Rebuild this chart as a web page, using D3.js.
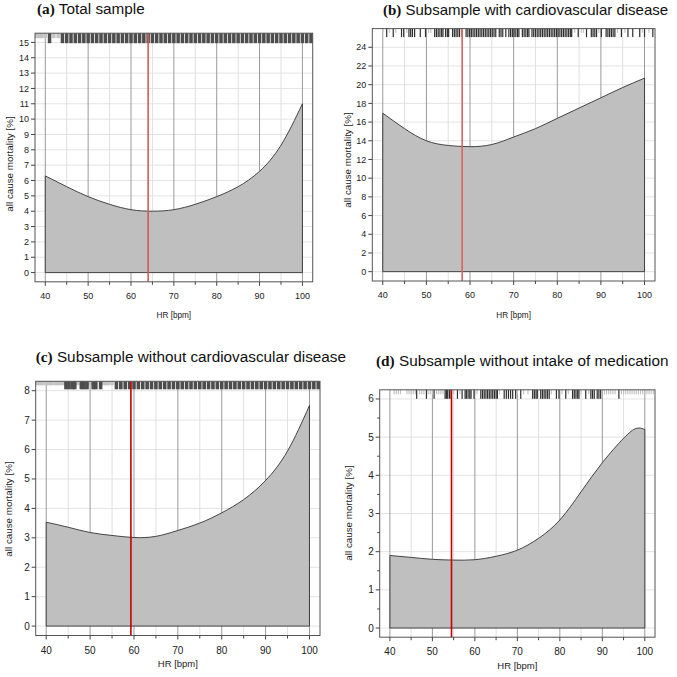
<!DOCTYPE html>
<html><head><meta charset="utf-8">
<script src="https://cdn.jsdelivr.net/npm/d3@7"></script>
<style>body{margin:0;background:#fff}svg{display:block}</style>
</head><body>
<svg id="c" width="677" height="677"></svg>
<script>
// ---------- data ----------
const hrGrid = [40,45,50,55,60,65,70,75,80,85,90,95,100];
const hrGridD = [40,45,50,55,60,65,70,75,80,85,90,95,98,100];
const mortA = [6.3,5.6,4.95,4.45,4.1,4.0,4.1,4.45,4.95,5.6,6.6,8.3,11.0];
const mortB = [16.95,15.3,14.0,13.5,13.37,13.6,14.4,15.3,16.4,17.5,18.6,19.7,20.7];
const mortC = [3.53,3.36,3.18,3.08,3.01,3.05,3.25,3.5,3.85,4.3,4.95,5.95,7.5];
const mortD = [1.9,1.85,1.8,1.78,1.79,1.88,2.04,2.35,2.83,3.57,4.33,4.97,5.23,5.2];
const optHR = [64.0, 58.2, 59.3, 54.5];
const titleTags = ["(a)","(b)","(c)","(d)"];
const titleTexts = ["Total sample","Subsample with cardiovascular disease","Subsample without cardiovascular disease","Subsample without intake of medication"];
const xTicks = [40,50,60,70,80,90,100];
const xMinorTicks = [45,55,65,75,85,95];
const yTicksA = [0,1,2,3,4,5,6,7,8,9,10,11,12,13,14,15];
const yTicksB = [0,2,4,6,8,10,12,14,16,18,20,22,24];
const yTicksC = [0,1,2,3,4,5,6,7,8];
const yTicksD = [0,1,2,3,4,5,6];
const yMinorD = [0.5,1.5,2.5,3.5,4.5,5.5];
const xLabel = "HR [bpm]";
const yLabel = "all cause mortality [%]";
// rug: observed HR values (dark = long ticks, light = short ticks)
const rugDarkA = [41,44,45,46,47,48,49,50,51,52,53,54,55,56,57,58,59,60,61,62,63,64,65,66,67,68,69,70,71,72,73,74,75,76,77,78,79,80,81,82,83,84,85,86,87,88,89,90,91,92,93,94,95,96,97,98,99,100,101,102];
const rugLightA = [38,38.6,39.2,40,42,43];
const rugDarkB = [40.9,42.4,44.3,44.8,46.0,46.4,46.8,47.3,48.6,49.8,51.9,52.3,52.7,53.1,53.5,53.8,54.4,54.8,55.1,56.0,56.4,56.8,57.2,57.6,58.2,
  59.1,59.5,59.9,60.3,60.7,61.1,61.5,61.9,62.3,62.7,63.1,63.5,63.9,64.3,64.7,65.1,65.5,65.9,66.7,67.1,67.5,68.2,68.9,69.3,69.7,70.1,70.5,70.9,71.2,
  72.0,72.4,72.8,73.2,73.5,74.2,74.6,75.0,75.4,75.8,76.2,76.6,77.0,77.4,77.8,78.2,78.6,79.0,79.4,79.8,80.2,80.6,81.0,81.4,81.8,82.2,82.6,83.0,83.3,
  84.8,86.7,87.8,88.2,88.6,89.0,90.1,91.2,91.6,92.0,92.4,92.8,93.2,94.7,96.2,97.3,98.9,100.0,101.9];
const rugLightB = [40,41.5,43,45.5,50.5,51,84,85.5,86,89.5,93.8,95.5,99.5,101];
const rugDarkC = [44.5,45.2,46,46.5,48,48.6,49.3,50.7,51.3,52.4,56,57,58,59,60,61,62,63,64,65,66,67,68,69,70,71,72,73,74,75,76,77,78,79,80,81,82,83,84,85,86,87,88,89,90,91,92,93,94,95,96,97,98,99,100,101,102];
const rugLightC = [38,38.6,39.2,40,40.6,41.2,42,42.6,43.2,44,47.2,50,53,53.6,54.2,55];
const rugDarkD = [46.3,48.6,50.4,53.0,53.3,53.6,54.0,54.4,55.9,57.0,57.7,58.0,58.4,58.8,59.1,59.8,61.4,61.8,62.2,62.6,63.0,63.4,63.8,64.2,64.6,65.0,65.3,
  66.9,67.4,67.9,68.4,68.9,69.6,70.8,73.6,74.0,74.4,74.7,75.5,75.9,76.3,76.7,77.1,77.5,79.2,79.8,81.4,83.0,83.4,83.8,84.2,84.5,86.1,87.3,87.7,88.1,88.8,89.2,89.6,93.9];
const rugLightD = [41,41.5,42,42.5,44,44.5,45,45.5,46,47,47.5,48,49,49.5,50,51,51.5,52,52.5,55,56.5,60.5,65.8,70,71.5,72.5,78,80.5,82,85,86.8,90.5,91,91.5,92,92.5,93,94.5,95,95.5,96,96.5,97,97.5,98,98.5,99,99.5,100,100.5,101,101.5,102];

// ---------- layout ----------
const panels = [
  {tag:0, hr:hrGrid,  m:mortA, yTicks:yTicksA, yMinor:[], yDom:[0,15], rugDark:rugDarkA, rugLight:rugLightA, rugMode:"band",
   box:[35,33.2,312.7,281.8], tx:37, ty:14, fs:15.3, tick:9, xlab:8.2, xlabY:318, ylabX:13, ylabY:164, red:"#d45a5a", rugLen:10},
  {tag:1, hr:hrGrid,  m:mortB, yTicks:yTicksB, yMinor:[], yDom:[0,25], rugDark:rugDarkB, rugLight:rugLightB, rugMode:"line",
   box:[372.3,28.6,655,281], tx:383, ty:15, fs:15, tick:9, xlab:8.2, xlabY:318, ylabX:351, ylabY:160, red:"#e06060", rugLen:8.5},
  {tag:2, hr:hrGrid,  m:mortC, yTicks:yTicksC, yMinor:[], yDom:[0,8], rugDark:rugDarkC, rugLight:rugLightC, rugMode:"band",
   box:[35.7,381.3,320,635.5], tx:35.7, ty:362, fs:15.3, tick:10, xlab:9.5, xlabY:667, ylabX:12, ylabY:509, red:"#c40000", rugLen:8},
  {tag:3, hr:hrGridD, m:mortD, yTicks:yTicksD, yMinor:yMinorD, yDom:[0,6], rugDark:rugDarkD, rugLight:rugLightD, rugMode:"line",
   box:[379.7,389.8,655,637.2], tx:376, ty:366, fs:15.3, tick:10, xlab:9.5, xlabY:669, ylabX:352, ylabY:513, red:"#c40000", rugLen:9}
];

const svg = d3.select("#c");
const sans = "'Liberation Sans', Arial, sans-serif";
const serif = "'Liberation Serif', 'Times New Roman', serif";

panels.forEach(p => {
  const [x0,y0,x1,y1] = p.box;
  const ext = (a,b) => { const r=b-a; return [a-0.04*r, b+0.04*r]; };
  const x = d3.scaleLinear().domain(ext(40,100)).range([x0,x1]);
  const y = d3.scaleLinear().domain(ext(p.yDom[0],p.yDom[1])).range([y1,y0]);
  const g = svg.append("g");

  // grid
  g.selectAll(".hg").data(p.yTicks).join("line")
    .attr("x1",x0).attr("x2",x1).attr("y1",d=>y(d)).attr("y2",d=>y(d))
    .attr("stroke","#e4e4e4").attr("stroke-width",1);
  g.selectAll(".vgm").data(xMinorTicks).join("line")
    .attr("x1",d=>x(d)).attr("x2",d=>x(d)).attr("y1",y0).attr("y2",y1)
    .attr("stroke","#e0e0e0").attr("stroke-width",1);
  g.selectAll(".vg").data(xTicks).join("line")
    .attr("x1",d=>x(d)).attr("x2",d=>x(d)).attr("y1",y0).attr("y2",y1)
    .attr("stroke","#9a9a9a").attr("stroke-width",1);

  // area
  const pts = p.hr.map((h,i)=>[h,p.m[i]]);
  const area = d3.area().x(d=>x(d[0])).y0(y(0)).y1(d=>y(d[1])).curve(d3.curveNatural);
  g.append("path").datum(pts).attr("d",area).attr("fill","#bfbfbf").attr("stroke","none");
  const line = d3.line().x(d=>x(d[0])).y(d=>y(d[1])).curve(d3.curveNatural);
  g.append("path").datum(pts).attr("d",line).attr("fill","none").attr("stroke","#333").attr("stroke-width",0.9);
  const first = pts[0], last = pts[pts.length-1];
  g.append("path")
    .attr("d",`M${x(first[0])},${y(first[1])}L${x(first[0])},${y(0)}L${x(last[0])},${y(0)}L${x(last[0])},${y(last[1])}`)
    .attr("fill","none").attr("stroke","#333").attr("stroke-width",0.9);

  // rug
  const bw = p.rugMode==="band" ? Math.abs(x(1)-x(0))*0.82 : 1.2;
  g.selectAll(".rl").data(p.rugLight).join("rect")
    .attr("x",d=>x(d)-bw/2).attr("width",bw).attr("y",y0).attr("height",p.rugLen*0.5)
    .attr("fill","#c4c4c4");
  g.selectAll(".rd").data(p.rugDark).join("rect")
    .attr("x",d=>x(d)-bw/2).attr("width",bw).attr("y",y0).attr("height",p.rugLen)
    .attr("fill",p.rugMode==="band" ? "#4d4d4d" : "#2e2e2e");

  // optimum line
  g.append("line").attr("x1",x(optHR[p.tag])).attr("x2",x(optHR[p.tag])).attr("y1",y0).attr("y2",y1)
    .attr("stroke",p.red).attr("stroke-width",1.6);

  // box
  g.append("rect").attr("x",x0).attr("y",y0).attr("width",x1-x0).attr("height",y1-y0)
    .attr("fill","none").attr("stroke","#555").attr("stroke-width",1);

  // x ticks
  g.selectAll(".xt").data(xTicks).join("line")
    .attr("x1",d=>x(d)).attr("x2",d=>x(d)).attr("y1",y1).attr("y2",y1+4).attr("stroke","#444");
  g.selectAll(".xtm").data(xMinorTicks).join("line")
    .attr("x1",d=>x(d)).attr("x2",d=>x(d)).attr("y1",y1).attr("y2",y1+3).attr("stroke","#444");
  g.selectAll(".xl").data(xTicks).join("text")
    .attr("x",d=>x(d)).attr("y",y1+p.tick+8).attr("text-anchor","middle")
    .attr("font-family",sans).attr("font-size",p.tick).attr("fill","#222").text(d=>d);
  // y ticks
  g.selectAll(".yt").data(p.yTicks).join("line")
    .attr("x1",x0-4).attr("x2",x0).attr("y1",d=>y(d)).attr("y2",d=>y(d)).attr("stroke","#444");
  g.selectAll(".ytm").data(p.yMinor).join("line")
    .attr("x1",x0-2.5).attr("x2",x0).attr("y1",d=>y(d)).attr("y2",d=>y(d)).attr("stroke","#444");
  g.selectAll(".yl").data(p.yTicks).join("text")
    .attr("x",x0-6).attr("y",d=>y(d)).attr("dy","0.35em").attr("text-anchor","end")
    .attr("font-family",sans).attr("font-size",p.tick).attr("fill","#222").text(d=>d);

  // axis labels
  g.append("text").attr("x",(x0+x1)/2).attr("y",p.xlabY).attr("text-anchor","middle")
    .attr("font-family",sans).attr("font-size",p.xlab).attr("fill","#222").text(xLabel);
  g.append("text").attr("transform",`translate(${p.ylabX},${p.ylabY}) rotate(-90)`).attr("text-anchor","middle")
    .attr("font-family",sans).attr("font-size",9.8).attr("fill","#222").text(yLabel);

  // title
  const t = g.append("text").attr("x",p.tx).attr("y",p.ty).attr("font-size",p.fs).attr("fill","#111");
  t.append("tspan").attr("font-family",serif).attr("font-weight","bold").text(titleTags[p.tag]);
  t.append("tspan").attr("font-family",sans).text(" " + titleTexts[p.tag]);
});
</script>
</body></html>
